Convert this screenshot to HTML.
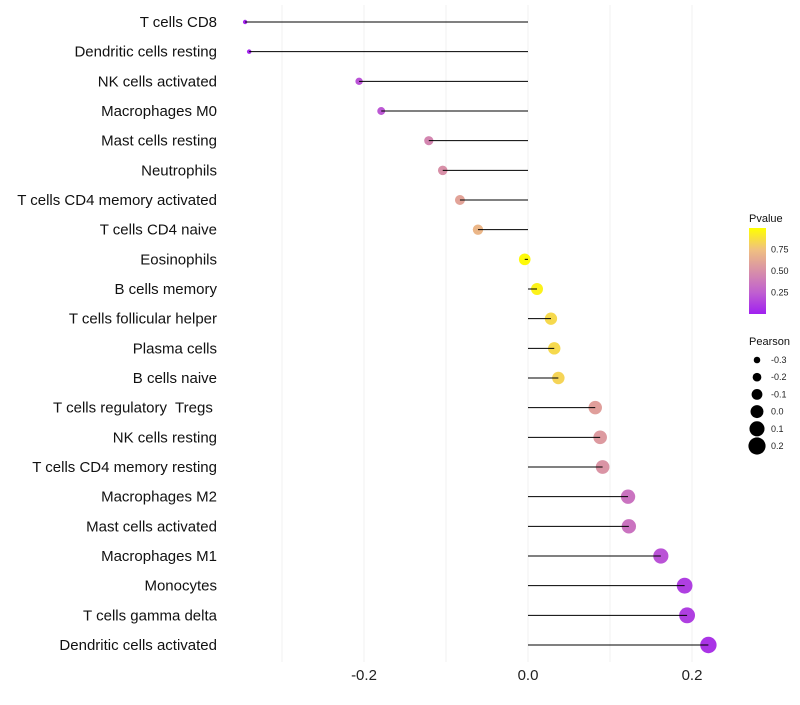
<!DOCTYPE html>
<html><head><meta charset="utf-8"><style>
body{margin:0;background:#fff;font-family:"Liberation Sans",sans-serif}
text{white-space:pre}
</style></head><body>
<svg id="c" width="800" height="700" xmlns="http://www.w3.org/2000/svg">
<defs><linearGradient id="pg" x1="0" y1="1" x2="0" y2="0">
<stop offset="0" stop-color="#a020f0"/><stop offset="0.25" stop-color="#c060d0"/><stop offset="0.5" stop-color="#d890a8"/><stop offset="0.75" stop-color="#f0c080"/><stop offset="1" stop-color="#ffff00"/></linearGradient></defs>
<g id="grid"></g><g id="pts"></g><g id="marks"></g><g id="labels"></g><g id="legend"></g>
</svg>
<script>
const categories=["T cells CD8","Dendritic cells resting","NK cells activated","Macrophages M0","Mast cells resting","Neutrophils","T cells CD4 memory activated","T cells CD4 naive","Eosinophils","B cells memory","T cells follicular helper","Plasma cells","B cells naive","T cells regulatory  Tregs ","NK cells resting","T cells CD4 memory resting","Macrophages M2","Mast cells activated","Macrophages M1","Monocytes","T cells gamma delta","Dendritic cells activated"];
const pearson=[-0.345,-0.340,-0.206,-0.179,-0.121,-0.104,-0.083,-0.061,-0.004,0.011,0.028,0.032,0.037,0.082,0.088,0.091,0.122,0.123,0.162,0.191,0.194,0.220];
const pvalue=[0.02,0.02,0.2,0.22,0.45,0.5,0.6,0.7,0.98,0.95,0.85,0.85,0.83,0.58,0.55,0.52,0.35,0.35,0.2,0.12,0.12,0.08];
const xTicks=[-0.2,0.0,0.2];
const xTickLabels=["-0.2","0.0","0.2"];
const pTicks=[0.25,0.5,0.75];
const sizeTicks=[-0.3,-0.2,-0.1,0.0,0.1,0.2];
const NS="http://www.w3.org/2000/svg";
const x=v=>528+v*820;
const y=i=>22+i*29.667;
const r=v=>2.2+(v+0.345)/0.565*6;
const stops=[[0,[160,32,240]],[0.25,[192,96,208]],[0.5,[216,144,168]],[0.75,[240,192,128]],[1,[255,255,0]]];
function col(p){for(let k=1;k<stops.length;k++){if(p<=stops[k][0]){const a=stops[k-1],b=stops[k],t=(p-a[0])/(b[0]-a[0]);return "rgb("+a[1].map((c,j)=>Math.round(c+(b[1][j]-c)*t)).join(",")+")";}}return "rgb(255,255,0)";}
function el(t,a,parent){const e=document.createElementNS(NS,t);for(const k in a)e.setAttribute(k,a[k]);document.getElementById(parent).appendChild(e);return e;}
[-0.3,-0.2,-0.1,0,0.1,0.2].forEach(v=>{const g=el("line",{x1:x(v),x2:x(v),y1:5,y2:662,stroke:"#f0f0f0","stroke-width":1},"grid");

});
xTicks.forEach((v,i)=>{const t=el("text",{x:x(v),y:680,"text-anchor":"middle","font-size":15,fill:"#222"},"labels");t.textContent=xTickLabels[i];

});
categories.forEach((c,i)=>{
const d=el("circle",{cx:x(pearson[i]),cy:y(i),r:r(pearson[i]),fill:col(pvalue[i])},"pts");


const l=el("line",{x1:x(0),x2:x(pearson[i]),y1:y(i),y2:y(i),stroke:"#000","stroke-width":1},"marks");


const t=el("text",{x:217,y:y(i)+5,"text-anchor":"end","font-size":15,fill:"#111"},"labels");t.textContent=c;

});
let t=el("text",{x:749,y:222,"font-size":11,fill:"#111"},"legend");t.textContent="Pvalue";


const b=el("rect",{x:749,y:228,width:17,height:86,fill:"url(#pg)"},"legend");


pTicks.forEach(p=>{const yy=314-p*86;const tt=el("text",{x:771,y:yy+3,"font-size":9,fill:"#222"},"legend");tt.textContent=p.toFixed(2);

});
t=el("text",{x:749,y:345,"font-size":11,fill:"#111"},"legend");t.textContent="Pearson";


sizeTicks.forEach((s,i)=>{const yy=360+i*17.2;
const c=el("circle",{cx:757,cy:yy,r:r(s)+0.6,fill:"#000"},"legend");


const tt=el("text",{x:771,y:yy+3,"font-size":9,fill:"#222"},"legend");tt.textContent=s.toFixed(1);

});
</script>
</body></html>
